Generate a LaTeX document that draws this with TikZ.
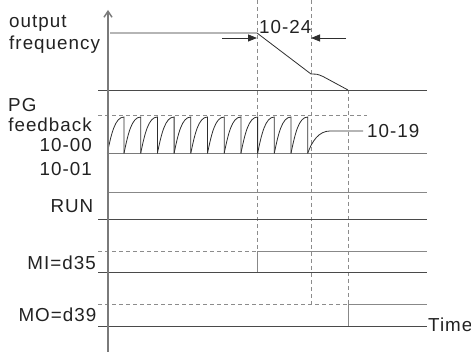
\documentclass[tikz,border=0pt]{standalone}
\usepackage{fontspec}
\setmainfont{Liberation Sans}[LetterSpace=5.5]
\usetikzlibrary{arrows.meta}
\definecolor{txt}{HTML}{222222}
\definecolor{dark}{HTML}{2E2E2E}
\definecolor{base}{HTML}{4A4A4A}
\definecolor{lvl}{HTML}{888888}
\definecolor{axisgray}{HTML}{7A7A7A}
\definecolor{guidegray}{HTML}{8C8C8C}
\begin{document}
\begin{tikzpicture}[x=1pt,y=-1pt,
  lbl/.style={inner sep=0pt, font=\fontsize{18.8}{20}\selectfont, text=txt},
  wave/.style={draw=dark, line width=0.8pt},
  baseln/.style={draw=base, line width=0.9pt},
  hilvl/.style={draw=lvl, line width=0.9pt},
  axisln/.style={draw=axisgray, line width=1.4pt},
  guide/.style={draw=guidegray, line width=0.8pt, dash pattern=on 4pt off 3pt},
  dimarrow/.style={draw=dark, line width=0.8pt, -{Triangle[length=9pt,width=7pt]}}
]
\useasboundingbox (0,0) rectangle (471,352);

% labels
\node[lbl, anchor=base west] (lout) at (9,28) {output};
\node[lbl, anchor=base west] (lfreq) at (9,50) {frequency};
\node[lbl, anchor=base west] (lpg) at (8,112) {PG};
\node[lbl, anchor=base east] (lfb) at (92,132) {feedback};
\node[lbl, anchor=base east] (l1000) at (92,151.7) {10-00};
\node[lbl, anchor=base east] (l1001) at (92,176) {10-01};
\node[lbl, anchor=base east] (lrun) at (93.5,212.7) {RUN};
\node[lbl, anchor=base east] (lmi) at (96,269.3) {MI=d35};
\node[lbl, anchor=base east] (lmo) at (96.5,321.7) {MO=d39};
\node[lbl, anchor=base west] (l1024) at (259,33.3) {10-24};
\node[lbl, anchor=base west] (l1019) at (367,137.3) {10-19};
\node[lbl, anchor=base west] (ltime) at (428,331.7) {Time};

% guide (dashed) lines
\coordinate (g1t) at (257,0);   \coordinate (g1b) at (257,251.7);
\coordinate (g2t) at (311,0);   \coordinate (g2b) at (311,304);
\coordinate (g3t) at (348,90);  \coordinate (g3b) at (348,304);
\draw[guide] (g1t) -- (g1b);
\draw[guide] (g2t) -- (g2b);
\draw[guide] (g3t) -- (g3b);
\draw[guide] (98,115) -- (367,115);
\draw[guide] (98,251.7) -- (g1b);
\draw[guide] (98,304) -- (g3b);

% output frequency
\coordinate (f0) at (110,33);
\coordinate (f1) at (257,33);
\coordinate (f2) at (311,74);
\coordinate (f3) at (348,90);
\draw[wave] (f0) -- (f1) -- (f2) .. controls (315,73.4) and (318,74.3) .. (323,76.5) -- (f3);
\draw[baseln] (98,90) -- (427,90);
\coordinate (a1s) at (222,38); \coordinate (a1e) at (257,38);
\coordinate (a2s) at (346,38); \coordinate (a2e) at (311,38);
\draw[dimarrow] (a1s) -- (a1e);
\draw[dimarrow] (a2s) -- (a2e);

% PG feedback
\draw[draw=axisgray, line width=0.9pt] (107,153.3) -- (427,153.3);
\foreach \k in {0,...,11}{
  \pgfmathsetmacro\xb{124+16.7*\k}
  \pgfmathsetmacro\xa{\xb-16.7}
  \draw[wave] (\xa,153.3) .. controls (\xa+4,134) and (\xb-9,117) .. (\xb,117) -- (\xb,153.3);
}
\coordinate (fbend) at (363,131);
\draw[wave] (307.7,153.3) .. controls (312,141) and (319,131) .. (330,131) -- (fbend);

% 10-01 / RUN
\draw[hilvl] (107,192.3) -- (427,192.3);
\draw[baseln] (98,219) -- (427,219);

% MI
\draw[hilvl] (257,272.7) -- (g1b) -- (427,251.7);
\draw[baseln] (98,272.7) -- (427,272.7);

% MO
\draw[hilvl] (348,326.7) -- (g3b) -- (427,304);
\draw[baseln] (98,326.7) -- (427,326.7);

% axis
\coordinate (axb) at (108,352);
\coordinate (axt) at (108,10);
\draw[axisln, -{Straight Barb[length=6pt,width=8pt]}] (axb) -- (axt);
\end{tikzpicture}
\end{document}
